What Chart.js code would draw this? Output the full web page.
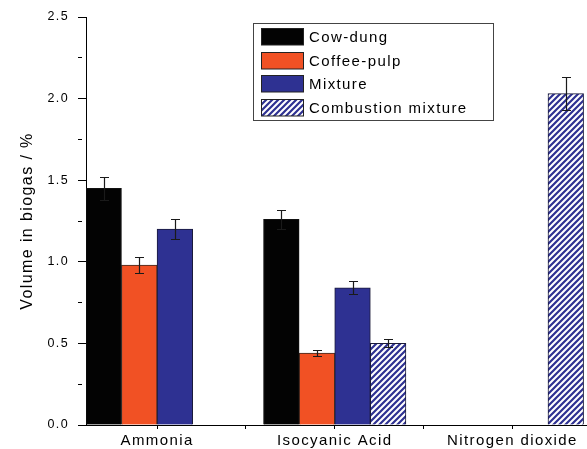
<!DOCTYPE html>
<html>
<head>
<meta charset="utf-8">
<script src="https://cdn.jsdelivr.net/npm/chart.js@4"></script>
<style>
  html, body { margin: 0; padding: 0; background: #fff; }
  canvas { display: block; }
</style>
</head>
<body>
<canvas id="gasChart" width="587" height="449"></canvas>
<script>
// gases found in the biogas, one group of bars per gas
const categories = ['Ammonia', 'Isocyanic Acid', 'Nitrogen dioxide'];
const positions = [1, 2, 3];
const xTickValues = [1, 1.5, 2, 2.5, 3];

const seriesNames = ['Cow-dung', 'Coffee-pulp', 'Mixture', 'Combustion mixture'];
const cowDung = [1.45, 1.26, null];
const coffeePulp = [0.98, 0.44, null];
const mixture = [1.20, 0.84, null];
const combustion = [null, 0.50, 2.03];

// standard deviations
const cowDungErr = [0.07, 0.06, null];
const coffeePulpErr = [0.05, 0.02, null];
const mixtureErr = [0.06, 0.04, null];
const combustionErr = [null, 0.025, 0.10];

const FONT = '"Liberation Sans", Arial, Helvetica, sans-serif';
const SPACING = '1.4px';
Chart.defaults.font.family = FONT;
Chart.defaults.color = '#000';

function hatch(color) {
  const c = document.createElement('canvas');
  c.width = 6; c.height = 6;
  const g = c.getContext('2d');
  g.fillStyle = '#fff';
  g.fillRect(0, 0, 6, 6);
  g.strokeStyle = color;
  g.lineWidth = 2.2;
  g.beginPath();
  g.moveTo(-2, 2); g.lineTo(2, -2);
  g.moveTo(-1, 7); g.lineTo(7, -1);
  g.moveTo(4, 8); g.lineTo(8, 4);
  g.stroke();
  return g.createPattern(c, 'repeat');
}

const toPoints = vals => vals.map((v, i) => ({ x: positions[i], y: v }));
const isMajor = v => Math.round(v * 100) % 50 === 0;

// wider letters, like the original figure's type
const letterSpacing = {
  id: 'letterSpacing',
  beforeUpdate(chart) { chart.ctx.letterSpacing = SPACING; },
  beforeDraw(chart) { chart.ctx.letterSpacing = SPACING; }
};

const errorBars = {
  id: 'errorBars',
  afterDatasetsDraw(chart) {
    const ctx = chart.ctx;
    const y = chart.scales.y;
    ctx.save();
    ctx.strokeStyle = '#1a1a1a';
    ctx.lineWidth = 1.2;
    chart.data.datasets.forEach((ds, i) => {
      chart.getDatasetMeta(i).data.forEach((bar, j) => {
        const v = ds.data[j].y, e = ds.errors[j];
        if (v == null || e == null) return;
        const top = Math.round(y.getPixelForValue(v + e)) + 0.5;
        const bot = Math.round(y.getPixelForValue(v - e)) + 0.5;
        const x = Math.round(bar.x) + 0.5;
        ctx.beginPath();
        ctx.moveTo(x, top); ctx.lineTo(x, bot);
        ctx.moveTo(x - 4.5, top); ctx.lineTo(x + 4.5, top);
        ctx.moveTo(x - 4.5, bot); ctx.lineTo(x + 4.5, bot);
        ctx.stroke();
      });
    });
    ctx.restore();
  }
};

// framed legend in the upper middle of the plot
const boxLegend = {
  id: 'boxLegend',
  afterDraw(chart) {
    const ctx = chart.ctx;
    ctx.save();
    ctx.fillStyle = '#fff';
    ctx.fillRect(253.5, 23.5, 240, 97);
    ctx.strokeStyle = '#444';
    ctx.lineWidth = 1;
    ctx.strokeRect(253.5, 23.5, 240, 97);
    ctx.font = '15px ' + FONT;
    ctx.textBaseline = 'middle';
    chart.data.datasets.forEach((ds, i) => {
      const ry = Math.round(28 + i * 23.6) + 0.5;
      ctx.fillStyle = ds.backgroundColor;
      ctx.fillRect(261.5, ry, 42, 16.5);
      ctx.strokeStyle = '#222';
      ctx.strokeRect(261.5, ry, 42, 16.5);
      ctx.fillStyle = '#000';
      ctx.fillText(ds.label, 309, ry + 9);
    });
    ctx.restore();
  }
};

new Chart(document.getElementById('gasChart'), {
  type: 'bar',
  data: {
    datasets: [
      { label: seriesNames[0], data: toPoints(cowDung), errors: cowDungErr, backgroundColor: '#030303', borderColor: '#111' },
      { label: seriesNames[1], data: toPoints(coffeePulp), errors: coffeePulpErr, backgroundColor: '#f15124', borderColor: '#3a2a22' },
      { label: seriesNames[2], data: toPoints(mixture), errors: mixtureErr, backgroundColor: '#2e3192', borderColor: '#1a1a3a' },
      { label: seriesNames[3], data: toPoints(combustion), errors: combustionErr, backgroundColor: hatch('#2e3192'), borderColor: '#1a1a3a' }
    ]
  },
  options: {
    responsive: false,
    animation: false,
    layout: { padding: { top: 17, right: 0, bottom: 0, left: 0 } },
    plugins: { legend: { display: false }, tooltip: { enabled: false } },
    datasets: { bar: { barThickness: 35.6, borderWidth: 1, borderSkipped: 'start' } },
    scales: {
      x: {
        type: 'linear',
        min: 0.6,
        max: 3.42,
        offset: false,
        afterBuildTicks: s => { s.ticks = xTickValues.map(v => ({ value: v })); },
        afterFit: s => { s.height = 24; },
        grid: { offset: false, drawOnChartArea: false, tickLength: 4, tickColor: '#000' },
        border: { color: '#000', width: 1 },
        ticks: {
          autoSkip: false,
          maxRotation: 0,
          padding: 3,
          font: { size: 15 },
          callback: v => {
            const i = positions.indexOf(v);
            return i >= 0 ? categories[i] : '';
          }
        }
      },
      y: {
        min: 0,
        max: 2.5,
        afterFit: s => { s.width = 86; },
        grid: {
          drawOnChartArea: false,
          tickLength: 8,
          tickColor: '#000',
          tickBorderDash: c => (c.tick && !isMajor(c.tick.value)) ? [4, 20] : []
        },
        border: { color: '#000', width: 1 },
        ticks: {
          stepSize: 0.25,
          padding: 9,
          font: { size: 12.5 },
          callback: v => isMajor(v) ? v.toFixed(1) : ''
        },
        title: {
          display: true,
          text: 'Volume in biogas / %',
          font: { size: 16 },
          padding: { top: 18, bottom: 0 }
        }
      }
    }
  },
  plugins: [letterSpacing, errorBars, boxLegend]
});
</script>
</body>
</html>
